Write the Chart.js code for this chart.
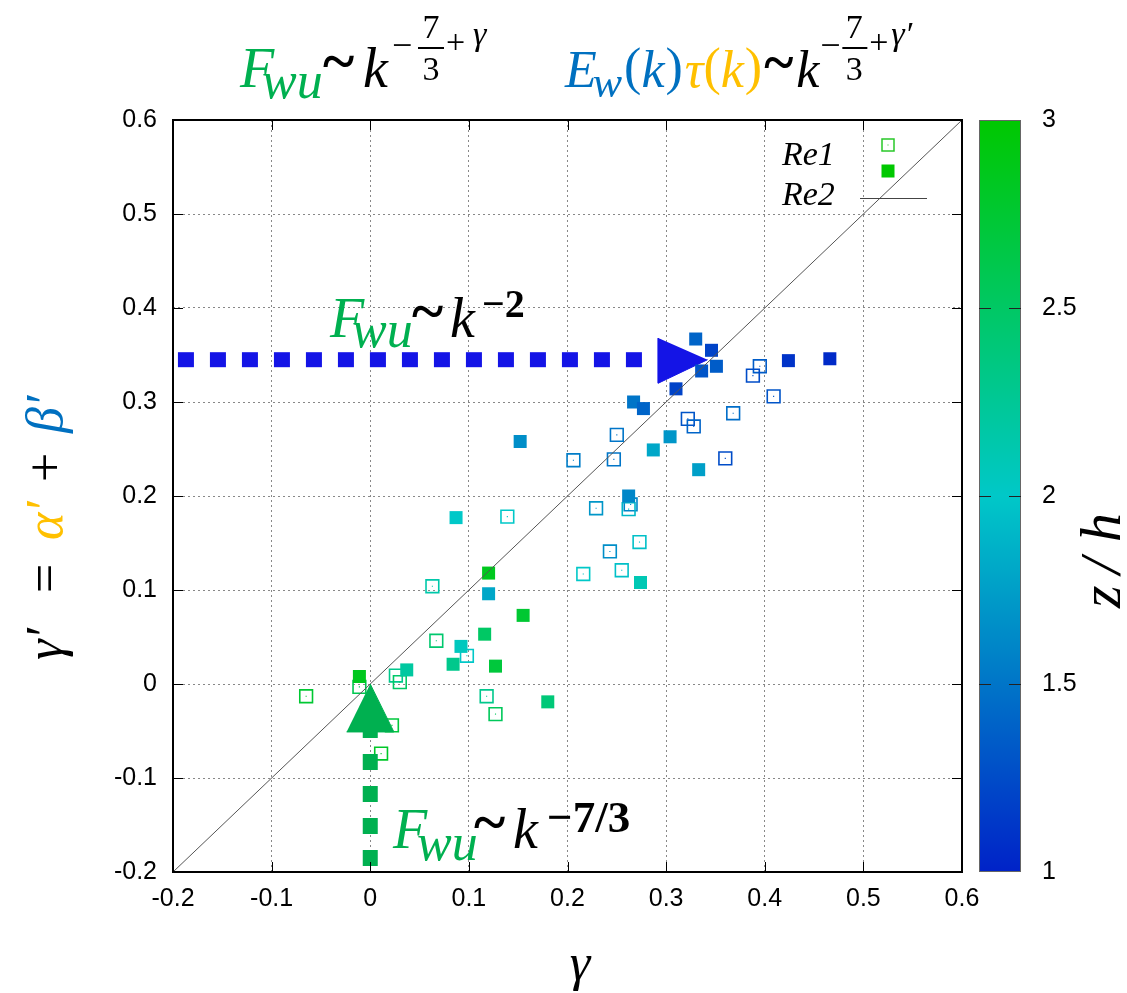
<!DOCTYPE html>
<html>
<head>
<meta charset="utf-8">
<script src="https://cdn.jsdelivr.net/npm/chart.js@4.4.1/dist/chart.umd.min.js"></script>
<style>
  html, body { margin: 0; padding: 0; background: #fff; }
  canvas { display: block; }
</style>
</head>
<body>
<canvas id="chart" width="1127" height="993"></canvas>
<script>
// Re1 (open squares): gamma, gamma', z/h
const gammaRe1  = [0.395, 0.388, 0.409, 0.368, 0.322, 0.328, 0.250, 0.206, 0.247, 0.360, 0.264, 0.262, 0.229, 0.273, 0.243,
                   0.255, 0.216, 0.139, 0.063, 0.067, 0.098, 0.026, 0.030, -0.011, -0.065, 0.118, 0.127, 0.022, 0.011];
const gammaPRe1 = [0.338, 0.328, 0.306, 0.288, 0.282, 0.274, 0.265, 0.238, 0.239, 0.240, 0.191, 0.186, 0.187, 0.151, 0.141,
                   0.121, 0.117, 0.178, 0.104, 0.046, 0.030, 0.009, 0.002, -0.003, -0.013, -0.013, -0.032, -0.044, -0.074];
const zRe1      = [1.35, 1.25, 1.3, 1.45, 1.3, 1.4, 1.5, 1.55, 1.5, 1.25, 1.6, 1.9, 1.7, 1.95, 1.65,
                   1.95, 2.0, 2.0, 2.15, 2.45, 2.0, 2.3, 2.5, 2.6, 2.75, 2.3, 2.55, 2.7, 2.8];

// Re2 (filled squares)
const gammaRe2  = [0.330, 0.346, 0.351, 0.336, 0.310, 0.267, 0.277, 0.424, 0.466, 0.304, 0.287, 0.333, 0.262, 0.274,
                   0.152, 0.087, 0.120, 0.120, 0.155, 0.116, 0.092, 0.084, 0.127, 0.037, -0.011, 0.180];
const gammaPRe2 = [0.367, 0.355, 0.338, 0.333, 0.314, 0.300, 0.293, 0.344, 0.346, 0.263, 0.249, 0.228, 0.200, 0.108,
                   0.258, 0.177, 0.118, 0.096, 0.073, 0.053, 0.040, 0.021, 0.019, 0.015, 0.008, -0.019];
const zRe2      = [1.4, 1.2, 1.35, 1.3, 1.2, 1.5, 1.4, 1.1, 1.05, 1.7, 1.8, 1.75, 1.6, 2.1,
                   1.65, 2.0, 2.85, 1.8, 2.75, 2.5, 2.05, 2.3, 2.7, 2.2, 2.85, 2.4];

// guide line gamma' = gamma and the two arrows
const diagX = [-0.2, 0.6];
const blueDashX = [-0.195, 0.276];
const blueDashY = 0.345;
const blueArrowX = [0.292, 0.292, 0.342];
const blueArrowY = [0.368, 0.320, 0.345];
const greenDashY = [-0.1936, -0.051];
const greenArrowX = [-0.024, 0.024, 0];
const greenArrowY = [-0.051, -0.051, 0];

const axisTicks = [-0.2, -0.1, 0, 0.1, 0.2, 0.3, 0.4, 0.5, 0.6];
const zTicks = [1, 1.5, 2, 2.5, 3];

const GREEN = '#00b050';
const BLUE = '#0070c0';
const GOLD = '#ffc000';
const ARROW_BLUE = '#1414e6';
const SERIF = '"Liberation Serif", "DejaVu Serif", serif';

// palette: z/h 1 blue -> 2 cyan -> 3 green
function zColor(z) {
  let g, b;
  if (z <= 2) { g = 34 + 166 * (z - 1); b = 200; }
  else { g = 200; b = 200 * (3 - z); }
  return 'rgb(0,' + Math.round(g) + ',' + Math.round(Math.max(0, b)) + ')';
}

const pts = (xs, ys) => xs.map((x, i) => ({ x: x, y: ys[i] }));
const fmt = v => Math.abs(v) < 1e-9 ? '0' : String(+v.toFixed(2));

function txt(ctx, s, x, y, font, color, align) {
  ctx.font = font;
  ctx.fillStyle = color || '#000';
  ctx.textAlign = align || 'left';
  ctx.textBaseline = 'alphabetic';
  ctx.fillText(s, x, y);
  return x + ctx.measureText(s).width;
}
const it = sz => 'italic ' + sz + 'px ' + SERIF;
const up = sz => sz + 'px ' + SERIF;
const bd = sz => 'bold ' + sz + 'px ' + SERIF;

// runs drawn one after another: [text, font, color, dy, dx]
function seq(ctx, x, y, runs) {
  runs.forEach(r => {
    x += r[4] || 0;
    x = txt(ctx, r[0], x, y + (r[3] || 0), r[1], r[2]);
  });
  return x;
}

function frac(ctx, cx, barY, x0, x1) {
  txt(ctx, '7', cx, barY - 10, up(34), '#000', 'center');
  txt(ctx, '3', cx, barY + 32, up(34), '#000', 'center');
  ctx.fillStyle = '#000';
  ctx.fillRect(x0, barY - 1, x1 - x0, 2);
}

const decor = {
  id: 'decor',
  afterDraw(chart) {
    const ctx = chart.ctx;
    const a = chart.chartArea;
    const xs = chart.scales.x, ys = chart.scales.y, zs = chart.scales.z;
    ctx.save();

    // inward tick marks on all four sides
    ctx.strokeStyle = '#000';
    ctx.lineWidth = 1;
    ctx.beginPath();
    axisTicks.slice(1, -1).forEach(v => {
      const px = Math.round(xs.getPixelForValue(v)) + 0.5;
      ctx.moveTo(px, a.bottom); ctx.lineTo(px, a.bottom - 10);
      ctx.moveTo(px, a.top); ctx.lineTo(px, a.top + 10);
      const py = Math.round(ys.getPixelForValue(v)) + 0.5;
      ctx.moveTo(a.left, py); ctx.lineTo(a.left + 10, py);
      ctx.moveTo(a.right, py); ctx.lineTo(a.right - 10, py);
    });
    ctx.stroke();

    // frame
    ctx.lineWidth = 2;
    ctx.strokeRect(a.left, a.top, a.right - a.left, a.bottom - a.top);

    // colour bar
    const cTop = zs.getPixelForValue(3), cBot = zs.getPixelForValue(1);
    const cx0 = 979, cw = 42;
    const grad = ctx.createLinearGradient(0, cBot, 0, cTop);
    for (let i = 0; i <= 20; i++) grad.addColorStop(i / 20, zColor(1 + i / 10));
    ctx.fillStyle = grad;
    ctx.fillRect(cx0, cTop, cw, cBot - cTop);
    ctx.strokeStyle = '#666';
    ctx.lineWidth = 1;
    ctx.strokeRect(cx0 + 0.5, cTop + 0.5, cw - 1, cBot - cTop - 1);
    ctx.strokeStyle = '#222';
    ctx.beginPath();
    zTicks.slice(1, -1).forEach(v => {
      const py = Math.round(zs.getPixelForValue(v)) + 0.5;
      ctx.moveTo(cx0, py); ctx.lineTo(cx0 + 12, py);
      ctx.moveTo(cx0 + cw, py); ctx.lineTo(cx0 + cw - 12, py);
    });
    ctx.stroke();

    // key
    txt(ctx, 'Re1', 782, 165, it(34));
    txt(ctx, 'Re2', 782, 205, it(34));
    ctx.strokeStyle = 'rgb(40,200,40)';
    ctx.lineWidth = 1.5;
    ctx.strokeRect(882, 139, 12, 12);
    ctx.fillStyle = 'rgb(40,200,40)';
    ctx.fillRect(887.5, 144.5, 1, 1);
    ctx.fillStyle = zColor(3);
    ctx.fillRect(881.5, 164.5, 13, 13);
    ctx.strokeStyle = '#444';
    ctx.lineWidth = 1;
    ctx.beginPath();
    ctx.moveTo(860, 198.5); ctx.lineTo(927, 198.5);
    ctx.stroke();

    // title: F_wu ~ k^(-7/3+gamma)
    txt(ctx, 'F', 240, 87, it(56), GREEN);
    txt(ctx, 'wu', 262, 98, it(52), GREEN);
    txt(ctx, '~', 323, 81, bd(60));
    txt(ctx, 'k', 363, 87, it(56));
    txt(ctx, '\u2212', 392, 57, up(36));
    frac(ctx, 431, 48, 418, 444);
    txt(ctx, '+', 446, 53, up(34));
    txt(ctx, '\u03b3', 473, 45, it(34));

    // title: E_w(k) tau(k) ~ k^(-7/3+gamma')
    const kEnd = seq(ctx, 565, 87, [
      ['E', it(52), BLUE],
      ['w', it(44), BLUE, 10, -4],
      ['(', up(52), BLUE, -3, 2],
      ['k', it(52), BLUE],
      [')', up(52), BLUE, -3, 1],
      ['\u03c4', it(52), GOLD, 0, 2],
      ['(', up(52), GOLD, -3],
      ['k', it(52), GOLD],
      [')', up(52), GOLD, -3, 1],
      ['~', bd(56), '#000', -6, 2],
      ['k', it(52), '#000', 0, 3]
    ]);
    txt(ctx, '\u2212', kEnd + 1, 57, up(36));
    frac(ctx, kEnd + 35, 48, kEnd + 23, kEnd + 48);
    txt(ctx, '+', kEnd + 50, 53, up(34));
    txt(ctx, '\u03b3\u2032', kEnd + 72, 45, it(34));

    // annotation F_wu ~ k^-2
    txt(ctx, 'F', 330, 337, it(56), GREEN);
    txt(ctx, 'wu', 352, 347, it(52), GREEN);
    txt(ctx, '~', 412, 331, bd(60));
    txt(ctx, 'k', 450, 337, it(56));
    txt(ctx, '\u22122', 482, 317, bd(40));

    // annotation F_wu ~ k^-7/3
    txt(ctx, 'F', 393, 848, it(56), GREEN);
    txt(ctx, 'wu', 417, 860, it(52), GREEN);
    txt(ctx, '~', 474, 842, bd(60));
    txt(ctx, 'k', 513, 848, it(56));
    txt(ctx, '\u22127/3', 547, 832, bd(45));

    // x axis title
    txt(ctx, '\u03b3', 580, 980, it(52), '#000', 'center');

    // y axis title
    ctx.save();
    ctx.translate(62, 660);
    ctx.rotate(-Math.PI / 2);
    txt(ctx, '\u03b3\u2032', 0, 0, it(52));
    txt(ctx, '=', 67, 0, up(52));
    txt(ctx, '\u03b1\u2032', 120, 0, it(52), GOLD);
    txt(ctx, '+', 178, 0, up(52));
    txt(ctx, '\u03b2\u2032', 227, 0, it(52), BLUE);
    ctx.restore();

    // colour bar title
    ctx.save();
    ctx.translate(1120, 608);
    ctx.rotate(-Math.PI / 2);
    txt(ctx, 'z', 0, 0, it(58));
    txt(ctx, '/', 34, 0, it(58));
    txt(ctx, 'h', 66, 0, it(58));
    ctx.restore();

    ctx.restore();
  }
};

const tickFont = { family: '"Liberation Sans", Arial, sans-serif', size: 25 };

new Chart(document.getElementById('chart'), {
  type: 'line',
  data: {
    datasets: [
      {
        label: 'green arrow',
        data: pts(greenArrowX, greenArrowY),
        fill: 'shape',
        backgroundColor: GREEN,
        borderColor: GREEN,
        borderWidth: 1,
        pointRadius: 0
      },
      {
        label: 'green dash',
        data: pts([0, 0], greenDashY),
        borderColor: GREEN,
        borderWidth: 15,
        borderDash: [16, 16],
        borderCapStyle: 'butt',
        pointRadius: 0
      },
      {
        label: 'diagonal',
        data: pts(diagX, diagX),
        borderColor: '#555',
        borderWidth: 1,
        pointRadius: 0
      },
      {
        label: 'Re2',
        data: pts(gammaRe2, gammaPRe2),
        showLine: false,
        pointStyle: 'rect',
        pointRadius: 9.2,
        pointBorderWidth: 0,
        pointBackgroundColor: zRe2.map(zColor),
        pointBorderColor: zRe2.map(zColor)
      },
      {
        label: 'Re1 centre',
        data: pts(gammaRe1, gammaPRe1),
        showLine: false,
        pointStyle: 'rect',
        pointRadius: 0.8,
        pointBorderWidth: 0,
        pointBackgroundColor: zRe1.map(zColor)
      },
      {
        label: 'Re1',
        data: pts(gammaRe1, gammaPRe1),
        showLine: false,
        pointStyle: 'rect',
        pointRadius: 9,
        pointBorderWidth: 1.6,
        pointBackgroundColor: 'rgba(0,0,0,0)',
        pointBorderColor: zRe1.map(zColor)
      },
      {
        label: 'blue arrow',
        data: pts(blueArrowX, blueArrowY),
        fill: 'shape',
        backgroundColor: ARROW_BLUE,
        borderColor: ARROW_BLUE,
        borderWidth: 1,
        pointRadius: 0
      },
      {
        label: 'blue dash',
        data: pts(blueDashX, [blueDashY, blueDashY]),
        borderColor: ARROW_BLUE,
        borderWidth: 15,
        borderDash: [16, 16],
        borderCapStyle: 'butt',
        pointRadius: 0
      }
    ]
  },
  options: {
    responsive: false,
    animation: false,
    events: [],
    layout: { padding: { top: 120, left: 0, right: 0, bottom: 0 } },
    plugins: { legend: { display: false }, tooltip: { enabled: false } },
    scales: {
      x: {
        type: 'linear',
        position: 'bottom',
        min: -0.2,
        max: 0.6,
        ticks: { stepSize: 0.1, padding: 12, color: '#000', font: tickFont, callback: fmt, maxRotation: 0, autoSkip: false },
        grid: { color: '#888', lineWidth: 1, drawTicks: false },
        border: { display: false, dash: [2, 3] },
        afterFit: s => { s.height = 121; }
      },
      y: {
        type: 'linear',
        position: 'left',
        min: -0.2,
        max: 0.6,
        ticks: { stepSize: 0.1, padding: 16, color: '#000', font: tickFont, callback: fmt, autoSkip: false },
        grid: { color: '#888', lineWidth: 1, drawTicks: false },
        border: { display: false, dash: [2, 3] },
        afterFit: s => { s.width = 173; }
      },
      z: {
        type: 'linear',
        position: 'right',
        min: 1,
        max: 3,
        ticks: { stepSize: 0.5, padding: 80, color: '#000', font: tickFont, callback: fmt },
        grid: { display: false, drawTicks: false },
        border: { display: false },
        afterFit: s => { s.width = 165; }
      }
    }
  },
  plugins: [decor]
});
</script>
</body>
</html>
